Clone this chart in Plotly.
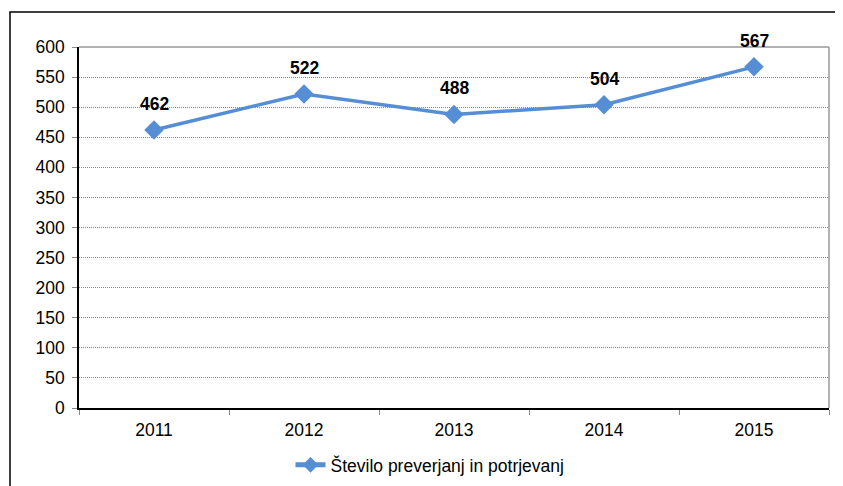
import plotly.graph_objects as go

years = ["2011", "2012", "2013", "2014", "2015"]
values = [462, 522, 488, 504, 567]
series_name = "Število preverjanj in potrjevanj"
y_ticks = list(range(0, 601, 50))

FONT = "Liberation Sans, Arial"

fig = go.Figure()
fig.add_trace(go.Scatter(
    x=years, y=values, name=series_name,
    mode="lines+markers",
    line=dict(color="#558ED5", width=3.5),
    marker=dict(symbol="diamond", size=15, color="#558ED5"),
    cliponaxis=False,
))

# category axis: annotation x given as the category index
annotations = [
    dict(x=i, y=v, xref="x", yref="y", text=str(v), showarrow=False, yshift=26,
         font=dict(family=FONT, size=17.5, color="black", weight="bold"))
    for i, v in enumerate(values)
]

fig.update_layout(
    width=835, height=478,
    margin=dict(l=71, r=14, t=39, b=78),
    paper_bgcolor="white", plot_bgcolor="white",
    font=dict(family=FONT, size=17.5, color="black"),
    showlegend=True,
    legend=dict(orientation="h", x=0.468, xanchor="center", xref="paper",
                y=0.044, yanchor="middle", yref="container",
                font=dict(size=17.5), itemsizing="constant"),
    xaxis=dict(type="category", range=[-0.5, 4.5], showline=True, linecolor="black", linewidth=1.5,
               ticks="outside", tickson="boundaries", ticklen=5, tickcolor="#888",
               ticklabelstandoff=5,
               showgrid=False, zeroline=False, automargin=False),
    yaxis=dict(range=[0, 600], tickvals=y_ticks, showline=True, linecolor="black", linewidth=1.5,
               ticks="outside", ticklen=5, tickcolor="#888", automargin=False,
               ticklabelstandoff=4,
               showgrid=True, gridcolor="#888", griddash="1px,1px", gridwidth=1, zeroline=False),
    annotations=annotations,
    shapes=[
        dict(type="line", xref="paper", yref="paper", x0=0, x1=1, y0=1, y1=1,
             line=dict(color="#999", width=1.5)),
        dict(type="line", xref="paper", yref="paper", x0=1, x1=1, y0=0, y1=1,
             line=dict(color="#999", width=1.5)),
        dict(type="rect", xref="paper", yref="paper", x0=-0.092, x1=1.2, y0=-0.4, y1=1.097,
             line=dict(color="black", width=1.5), fillcolor="rgba(0,0,0,0)", layer="below"),
    ],
)

fig.write_html("out.html")
